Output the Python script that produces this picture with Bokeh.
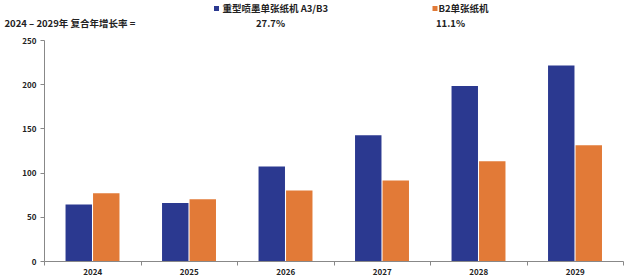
from bokeh.plotting import figure
from bokeh.models import ColumnDataSource, FixedTicker, Range1d
from bokeh.layouts import column, row
from bokeh.core.properties import value
from bokeh.embed import file_html
from bokeh.resources import INLINE

years = ["2024", "2025", "2026", "2027", "2028", "2029"]
heavy_inkjet = [64.4, 66.2, 107.6, 142.8, 198.5, 221.6]
b2_sheetfed = [77.3, 70.5, 80.2, 91.7, 113.5, 131.5]
series_names = ["重型喷墨单张纸机 A3/B3", "B2单张纸机"]
cagr_label = "2024 – 2029年 复合年增长率 ="
cagr_values = ["27.7%", "11.1%"]
y_ticks = [0, 50, 100, 150, 200, 250]

BLUE = "#2B3990"
ORANGE = "#E27A37"
TEXT = "#222222"
FONT = "Noto Sans CJK SC"
W = 624
HEAD_H = 35

# ---------- header (legend + CAGR row) ----------
h = figure(width=W, height=HEAD_H, output_backend="svg", toolbar_location=None,
           x_range=Range1d(0, W), y_range=Range1d(HEAD_H, 0),
           x_axis_type=None, y_axis_type=None,
           min_border=0, min_border_left=0, min_border_right=0,
           min_border_top=0, min_border_bottom=0)
h.outline_line_color = None
h.grid.visible = False

h.scatter(x=[216, 434.5], y=[8, 8], marker="square", size=5,
          fill_color=[BLUE, ORANGE], line_color=None)
h.text(x=[222, 438], y=[7.5, 7.5], text=series_names,
       text_font=value(FONT), text_font_style="bold", text_font_size="9.5px",
       text_color=TEXT, text_align="left", text_baseline="middle")
h.text(x=[4], y=[22.5], text=[cagr_label],
       text_font=value(FONT), text_font_style="bold", text_font_size="9.5px",
       text_color=TEXT, text_align="left", text_baseline="middle")
h.text(x=[270, 450], y=[22.5, 22.5], text=cagr_values,
       text_font=value(FONT), text_font_style="bold", text_font_size="9.5px",
       text_color=TEXT, text_align="center", text_baseline="middle")

# ---------- main chart ----------
n = len(years)
centers = [i + 0.5 for i in range(n)]
src = ColumnDataSource(dict(
    xb=[c - 0.145 for c in centers],
    xo=[c + 0.14 for c in centers],
    blue=heavy_inkjet,
    orange=b2_sheetfed,
))

p = figure(width=W, height=280 - HEAD_H, output_backend="svg", toolbar_location=None,
           x_range=Range1d(0, n), y_range=Range1d(0, 250),
           min_border_left=44, min_border_right=1, min_border_top=5, min_border_bottom=19)
p.outline_line_color = None
p.grid.visible = False

p.vbar(x="xb", top="blue", width=0.274, source=src, fill_color=BLUE, line_color=None)
p.vbar(x="xo", top="orange", width=0.274, source=src, fill_color=ORANGE, line_color=None)

xa = p.xaxis[0]
xa.ticker = FixedTicker(ticks=centers, minor_ticks=list(range(n + 1)))
xa.major_label_overrides = {c: y for c, y in zip(centers, years)}
xa.major_tick_line_color = None
xa.major_tick_out = 0
xa.major_tick_in = 0
xa.minor_tick_line_color = "#888888"
xa.minor_tick_out = 4
xa.minor_tick_in = 0
xa.axis_line_color = "#888888"
xa.major_label_text_font = FONT
xa.major_label_text_font_style = "bold"
xa.major_label_text_font_size = "8px"
xa.major_label_text_color = TEXT
xa.major_label_standoff = 3

ya = p.yaxis[0]
ya.ticker = FixedTicker(ticks=y_ticks)
ya.minor_tick_line_color = None
ya.major_tick_line_color = "#888888"
ya.major_tick_out = 4
ya.major_tick_in = 0
ya.axis_line_color = "#888888"
ya.major_label_text_font = FONT
ya.major_label_text_font_style = "bold"
ya.major_label_text_font_size = "8px"
ya.major_label_text_color = TEXT
ya.major_label_standoff = 4

layout = column(row(h), p, spacing=0)
open("out.html", "w").write(file_html(layout, INLINE))
